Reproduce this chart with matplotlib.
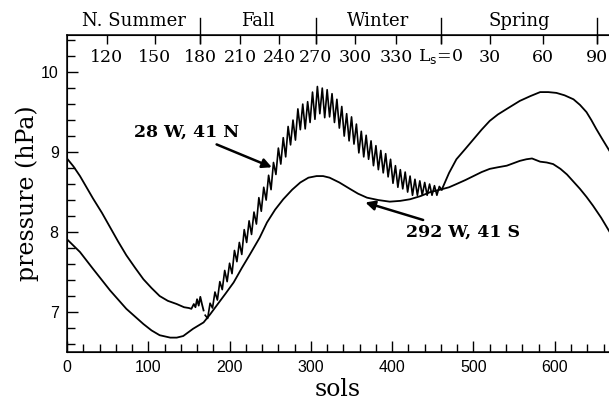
import matplotlib.pyplot as plt
from matplotlib.ticker import MultipleLocator
import matplotlib.transforms as mtransforms

# Data
# 28 W, 41 N : smooth start, noisy winter segment, smooth spring
north_sol_a = [0, 8, 16, 24, 32, 43, 53, 63, 73, 84, 94, 104, 114, 124, 135, 144, 150,
               153, 156, 158, 160, 162, 164, 166, 168]
north_p_a = [8.92, 8.82, 8.70, 8.56, 8.42, 8.24, 8.06, 7.88, 7.71, 7.55, 7.41, 7.30, 7.20,
             7.14, 7.10, 7.06, 7.05, 7.04, 7.10, 7.06, 7.16, 7.08, 7.19, 7.10, 7.02]

north_sol_b = list(range(170, 462, 3))
north_p_b = [6.96, 6.92, 7.11, 7.05, 7.25, 7.15, 7.38, 7.28, 7.52, 7.38,
             7.61, 7.48, 7.77, 7.63, 7.87, 7.72, 8.03, 7.87, 8.14, 7.97,
             8.25, 8.10, 8.43, 8.26, 8.56, 8.40, 8.71, 8.53, 8.87, 8.72,
             9.05, 8.85, 9.18, 8.94, 9.32, 9.09, 9.40, 9.15, 9.54, 9.28,
             9.60, 9.29, 9.63, 9.37, 9.75, 9.41, 9.82, 9.48, 9.80, 9.43,
             9.78, 9.44, 9.73, 9.37, 9.66, 9.30, 9.57, 9.20, 9.48, 9.14,
             9.44, 9.10, 9.35, 8.99, 9.26, 8.94, 9.21, 8.91, 9.14, 8.83,
             9.08, 8.78, 9.02, 8.74, 8.98, 8.69, 8.91, 8.61, 8.83, 8.56,
             8.78, 8.54, 8.75, 8.50, 8.70, 8.46, 8.66, 8.46, 8.64, 8.46,
             8.62, 8.46, 8.60, 8.46, 8.58, 8.46, 8.57, 8.53]

north_sol_c = [461, 470, 479, 490, 500, 510, 520, 530, 541, 557, 570, 582, 592, 602, 612,
               623, 631, 639, 645, 651, 658, 667]
north_p_c = [8.53, 8.74, 8.91, 9.04, 9.16, 9.28, 9.39, 9.47, 9.54, 9.64, 9.70, 9.75, 9.75,
             9.74, 9.71, 9.66, 9.59, 9.50, 9.40, 9.29, 9.17, 9.02]

# 292 W, 41 S
south_sol = [0, 8, 16, 32, 53, 73, 94, 104, 114, 127, 135, 143, 155, 168, 176, 184, 195,
             205, 215, 225, 237, 246, 256, 266, 277, 287, 297, 307, 315, 323, 335, 348,
             358, 369, 383, 397, 410, 422, 435, 447, 459, 470, 479, 490, 500, 510, 520,
             530, 541, 557, 565, 572, 582, 590, 598, 607, 615, 623, 631, 639, 647, 657, 667]
south_p = [7.91, 7.83, 7.75, 7.54, 7.27, 7.04, 6.85, 6.77, 6.71, 6.68, 6.68, 6.70, 6.79,
           6.87, 6.97, 7.08, 7.23, 7.37, 7.55, 7.72, 7.93, 8.12, 8.28, 8.41, 8.53, 8.62,
           8.68, 8.70, 8.70, 8.68, 8.62, 8.54, 8.48, 8.43, 8.40, 8.38, 8.39, 8.41, 8.45,
           8.50, 8.53, 8.56, 8.60, 8.65, 8.70, 8.75, 8.79, 8.81, 8.83, 8.89, 8.91, 8.92,
           8.88, 8.87, 8.85, 8.79, 8.72, 8.63, 8.54, 8.44, 8.33, 8.18, 8.01]

# Areocentric longitude (Ls) ticks on the top axis, placed at sols
ls_sols = [49, 108, 164, 213, 261, 306, 354, 405, 460, 520, 585, 652]
ls_labels = ['120', '150', '180', '210', '240', '270', '300', '330', r'L$_\mathrm{s}$=0',
             '30', '60', '90']
season_bounds = [164, 306, 460, 652]
season_names = ['N. Summer', 'Fall', 'Winter', 'Spring']
season_mid = [82, 235, 383, 556]

serif = ['DejaVu Serif']
sans = ['Liberation Sans', 'DejaVu Sans']

fig = plt.figure(figsize=(6.09, 4.07), dpi=100)
ax = fig.add_axes([0.110, 0.1351, 0.890, 0.7801])

lw = 1.3
ax.plot(north_sol_a, north_p_a, color='k', lw=lw)
ax.plot(north_sol_b, north_p_b, color='k', lw=1.2)
ax.plot(north_sol_c, north_p_c, color='k', lw=lw)
ax.plot(south_sol, south_p, color='k', lw=lw)

ax.set_xlim(0, 666.7)
ax.set_ylim(6.5, 10.47)
ax.xaxis.set_major_locator(MultipleLocator(100))
ax.xaxis.set_minor_locator(MultipleLocator(20))
ax.yaxis.set_major_locator(MultipleLocator(1))
ax.yaxis.set_minor_locator(MultipleLocator(0.2))
ax.tick_params(which='both', direction='in', top=False, right=False, width=1)
ax.tick_params(which='major', length=8, labelsize=11.5, pad=6)
ax.tick_params(which='minor', length=5.5)
for lab in ax.get_xticklabels() + ax.get_yticklabels():
    lab.set_family(sans)
ax.spines['right'].set_visible(False)
for s in ['left', 'bottom', 'top']:
    ax.spines[s].set_linewidth(1.1)

ax.set_xlabel('sols', family=serif, fontsize=17)
ax.xaxis.set_label_coords(0.5, -0.082)
ax.set_ylabel('pressure (hPa)', family=serif, fontsize=17)
ax.yaxis.set_label_coords(-0.052, 0.5)

# top Ls axis
ax2 = ax.twiny()
ax2.set_xlim(ax.get_xlim())
ax2.set_xticks(ls_sols)
ax2.set_xticklabels(ls_labels, family=serif, fontsize=12.5)
ax2.tick_params(axis='x', direction='in', length=6.5, width=1, pad=-23)
ax2.spines['right'].set_visible(False)

trans = mtransforms.blended_transform_factory(ax.transData, ax.transAxes)
h = 317.5
for b in season_bounds:
    ax.plot([b, b], [1 - 8.5 / h, 1 + 16.5 / h], color='k', lw=1, transform=trans,
            clip_on=False)
for m, name in zip(season_mid, season_names):
    ax.text(m, 1 + 13.5 / h, name, transform=trans, ha='center', va='center',
            family=serif, fontsize=13)

arrow = dict(arrowstyle='-|>', color='k', lw=1.8, mutation_scale=14, shrinkA=2, shrinkB=0)
ax.annotate('28 W, 41 N', xy=(252, 8.81), xytext=(212, 9.25), ha='right', va='center',
            family=serif, fontweight='bold', fontsize=12.5, arrowprops=arrow)
ax.annotate('292 W, 41 S', xy=(367, 8.37), xytext=(417, 8.0), ha='left', va='center',
            family=serif, fontweight='bold', fontsize=12.5, arrowprops=arrow)

fig.savefig('out.png', dpi=100)
